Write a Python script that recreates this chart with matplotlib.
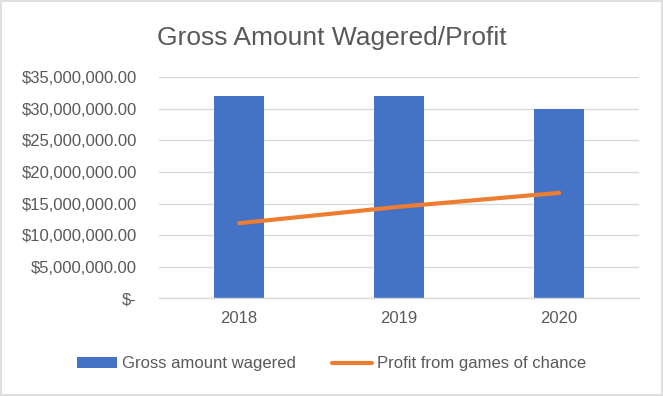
import matplotlib.pyplot as plt
import numpy as np
from matplotlib.ticker import FuncFormatter

years = ["2018", "2019", "2020"]
gross_wagered = [32000000, 32000000, 30000000]
profit = [11900000, 14500000, 16700000]

plt.rcParams["font.family"] = ["Liberation Sans", "DejaVu Sans"]

blue = "#4472C4"
orange = "#ED7D31"
text_grey = "#595959"
grid_grey = "#D9D9D9"


def money(v, pos):
    if v == 0:
        return "$-"
    return "${:,.2f}".format(v)


fig = plt.figure(figsize=(6.63, 3.96), dpi=100)
ax = fig.add_axes([0.240, 0.2467, 0.724, 0.558])

x = np.arange(len(years))
bars = ax.bar(x, gross_wagered, width=0.313, color=blue, label="Gross amount wagered", zorder=2)
line, = ax.plot(x, profit, color=orange, linewidth=3.0, solid_capstyle="round",
                label="Profit from games of chance", zorder=3)

ax.set_xlim(-0.5, len(years) - 0.5)
ax.set_ylim(0, 35000000)
ax.set_yticks(np.arange(0, 35000001, 5000000))
ax.yaxis.set_major_formatter(FuncFormatter(money))
ax.set_xticks(x)
ax.set_xticklabels(years)

ax.grid(axis="y", color=grid_grey, linewidth=1.0, zorder=0)
for side in ["top", "right", "left"]:
    ax.spines[side].set_visible(False)
ax.spines["bottom"].set_color(grid_grey)
ax.spines["bottom"].set_linewidth(1.0)
ax.tick_params(axis="both", length=0, labelsize=12, labelcolor=text_grey)
ax.tick_params(axis="y", pad=16)
ax.tick_params(axis="x", pad=9)

fig.text(0.5, 0.905, "Gross Amount Wagered/Profit", ha="center", va="center",
         fontsize=19, color=text_grey)

fig.legend([bars, line], ["Gross amount wagered", "Profit from games of chance"],
           loc="center", bbox_to_anchor=(0.5, 0.081), ncol=2, frameon=False,
           fontsize=12, labelcolor=text_grey, handlelength=2.4, handletextpad=0.3,
           columnspacing=2.2, handleheight=0.6)

fig.patches.append(plt.Rectangle((0.001, 0.002), 0.997, 0.996, transform=fig.transFigure,
                                 fill=False, edgecolor=grid_grey, linewidth=1.2))

fig.savefig("out.png", dpi=100)
